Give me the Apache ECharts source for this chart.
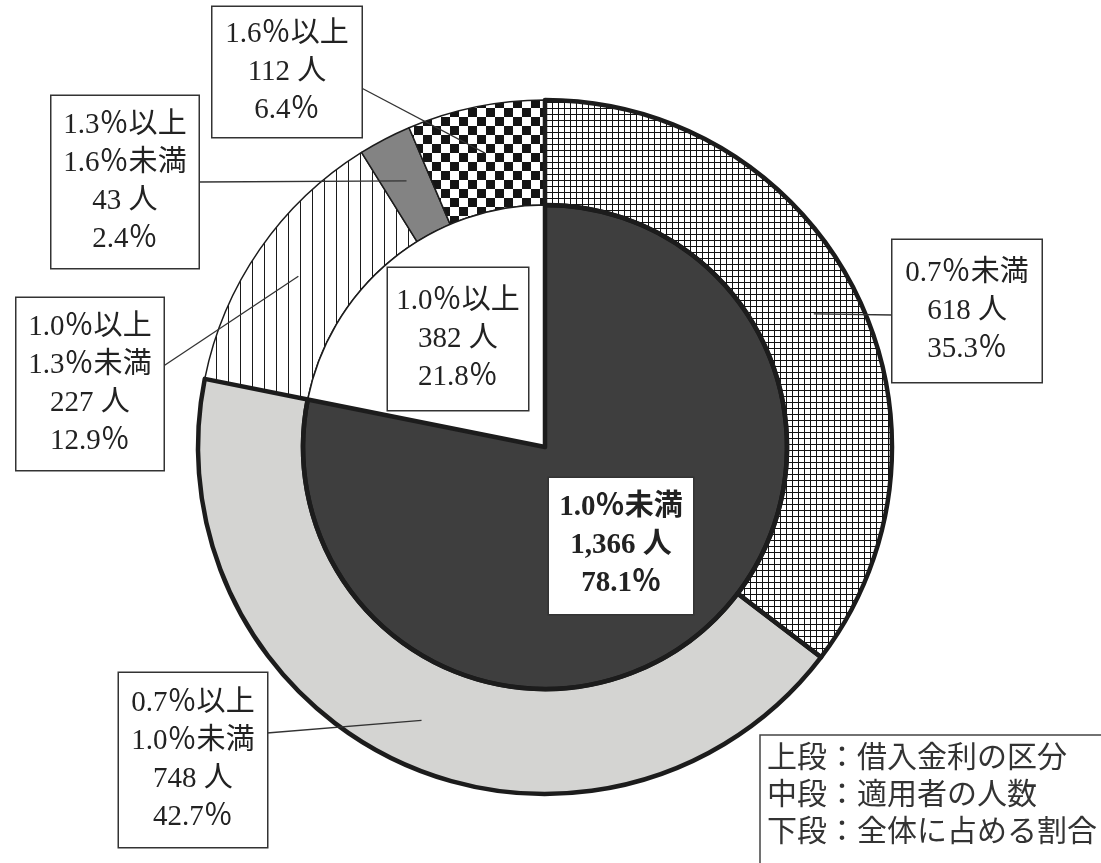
<!DOCTYPE html>
<html><head><meta charset="utf-8">
<script src="https://cdn.jsdelivr.net/npm/echarts@6/dist/echarts.min.js"></script>
<style>html,body{margin:0;padding:0;background:#fff}#c{width:1101px;height:863px}</style>
</head><body><div id="c"></div>
<script>
// ---- data ----
const outerNames = ['0.7％未満', '0.7％以上\n1.0％未満', '1.0％以上\n1.3％未満', '1.3％以上\n1.6％未満', '1.6％以上'];
const outerCounts = [618, 748, 227, 43, 112];
const outerShares = [35.3, 42.7, 12.9, 2.4, 6.4];
const innerNames = ['1.0％未満', '1.0％以上'];
const innerCounts = [1366, 382];
const innerShares = [78.1, 21.8];
const legendLines = ['上段：借入金利の区分', '中段：適用者の人数', '下段：全体に占める割合'];

// ---- layout / style ----
const FONT = "'Liberation Serif', 'Noto Sans CJK JP', serif";
const CX = 545, CY = 447, R_IN = 242, R_OUT = 347, R_LBL = 300;
// box centre, content width, vertical padding, which side the leader meets, leader end offset
const outerBoxes = [
  {x: 967, y: 311, w: 141, pv: 14, side: 'left',  dy: 4},
  {x: 193, y: 760, w: 140, pv: 11, side: 'right', dy: -27},
  {x: 90,  y: 384, w: 139, pv: 10, side: 'right', dy: -18},
  {x: 125, y: 182, w: 139, pv: 10, side: 'right', dy: 0},
  {x: 287, y: 72,  w: 141, pv: 8,  side: 'right', dy: 16}
];
const innerBoxes = [
  {x: 621, y: 546, w: 136, pv: 11, bold: true},
  {x: 458, y: 339, w: 132, pv: 14, bold: false}
];

function pattern(kind) {
  const c = document.createElement('canvas');
  const g = c.getContext('2d');
  if (kind === 'grid') {
    c.width = 6; c.height = 6;
    g.fillStyle = '#fff'; g.fillRect(0, 0, 6, 6);
    g.fillStyle = '#111'; g.fillRect(0, 0, 6, 1); g.fillRect(0, 0, 1, 6);
  } else if (kind === 'checker') {
    c.width = 18; c.height = 18;
    g.fillStyle = '#fff'; g.fillRect(0, 0, 18, 18);
    g.fillStyle = '#151515'; g.fillRect(0, 0, 9, 9); g.fillRect(9, 9, 9, 9);
  } else {
    c.width = 12; c.height = 12;
    g.fillStyle = '#fff'; g.fillRect(0, 0, 12, 12);
    g.fillStyle = '#1a1a1a'; g.fillRect(0, 0, 1, 12);
  }
  return {image: c, repeat: 'repeat'};
}
const outerFills = [pattern('grid'), '#d4d4d2', pattern('stripes'), '#838383', pattern('checker')];
const innerFills = ['#3e3e3e', '#ffffff'];
const outerThick = [true, true, false, false, false];
const innerThick = [true, false];
const THICK = 4.5, THIN = 1.5, EDGE = '#1c1c1c';
const FS = 29, LH = 38;

function fmtLabel(name, count, share) {
  return name + '\n' + count.toLocaleString('en-US') + ' 人\n' + share.toFixed(1) + '％';
}

const baseSeries = {
  type: 'pie', center: [CX, CY], startAngle: 90, clockwise: true,
  animation: false, silent: true, avoidLabelOverlap: false,
  emphasis: {disabled: true}, label: {show: false}, labelLine: {show: false}
};

const outerBase = Object.assign({}, baseSeries, {
  radius: [R_IN, R_OUT], z: 2,
  data: outerCounts.map((v, i) => ({value: v, name: outerNames[i],
    itemStyle: {color: outerFills[i], borderColor: EDGE, borderWidth: THIN}}))
});
const innerBase = Object.assign({}, baseSeries, {
  radius: [0, R_IN], z: 2,
  data: innerCounts.map((v, i) => ({value: v, name: innerNames[i],
    itemStyle: {color: innerFills[i], borderColor: EDGE, borderWidth: THIN}}))
});
const outerOverlay = Object.assign({}, baseSeries, {
  radius: [R_IN, R_OUT], z: 3,
  data: outerCounts.map((v, i) => ({value: v, name: outerNames[i],
    itemStyle: {color: 'rgba(0,0,0,0)', borderColor: EDGE, borderWidth: outerThick[i] ? THICK : 0}}))
});
const innerOverlay = Object.assign({}, baseSeries, {
  radius: [0, R_IN], z: 4,
  label: {show: true, position: 'inside', fontFamily: FONT, fontSize: FS, lineHeight: LH,
    color: '#222', backgroundColor: '#fff', borderColor: '#333', borderWidth: 1.5},
  labelLine: {show: false},
  labelLayout: p => ({x: innerBoxes[p.dataIndex].x, y: innerBoxes[p.dataIndex].y, align: 'center', verticalAlign: 'middle'}),
  data: innerCounts.map((v, i) => ({value: v, name: innerNames[i],
    itemStyle: {color: 'rgba(0,0,0,0)', borderColor: EDGE, borderWidth: innerThick[i] ? THICK : 0},
    label: {formatter: fmtLabel(innerNames[i], v, innerShares[i]), width: innerBoxes[i].w,
      padding: [innerBoxes[i].pv, 4], fontWeight: innerBoxes[i].bold ? 'bold' : 'normal', align: 'center'}}))
});
const outerLabels = Object.assign({}, baseSeries, {
  radius: [0, R_LBL], z: 6,
  label: {show: true, position: 'outside', fontFamily: FONT, fontSize: FS, lineHeight: LH,
    color: '#222', backgroundColor: '#fff', borderColor: '#333', borderWidth: 1.5, align: 'center'},
  labelLine: {show: true, length: 8, length2: 0, lineStyle: {color: '#333', width: 1.3}},
  labelLayout: p => {
    const b = outerBoxes[p.dataIndex];
    const half = (b.w + 8) / 2;
    const ex = b.side === 'left' ? b.x - half : b.x + half;
    const ey = b.y + b.dy;
    const out = {x: b.x, y: b.y, align: 'center', verticalAlign: 'middle'};
    if (p.labelLinePoints && p.labelLinePoints[0]) {
      const a = p.labelLinePoints[0];
      out.labelLinePoints = [[a[0], a[1]], [ex, ey], [ex, ey]];
    }
    return out;
  },
  data: outerCounts.map((v, i) => ({value: v, name: outerNames[i],
    itemStyle: {color: 'rgba(0,0,0,0)', borderWidth: 0},
    label: {formatter: fmtLabel(outerNames[i], v, outerShares[i]), width: outerBoxes[i].w,
      padding: [outerBoxes[i].pv, 4]}}))
});

const chart = echarts.init(document.getElementById('c'), null, {renderer: 'canvas'});
chart.setOption({
  backgroundColor: '#fff',
  animation: false,
  title: {
    text: legendLines.join('\n'), left: 760, top: 735,
    padding: [6, 60, 30, 7], backgroundColor: '#fff', borderColor: '#444', borderWidth: 1.5,
    textStyle: {fontFamily: FONT, fontSize: 30, lineHeight: 37, fontWeight: 'normal', color: '#333'}
  },
  series: [outerBase, innerBase, outerOverlay, innerOverlay, outerLabels]
});
</script></body></html>
